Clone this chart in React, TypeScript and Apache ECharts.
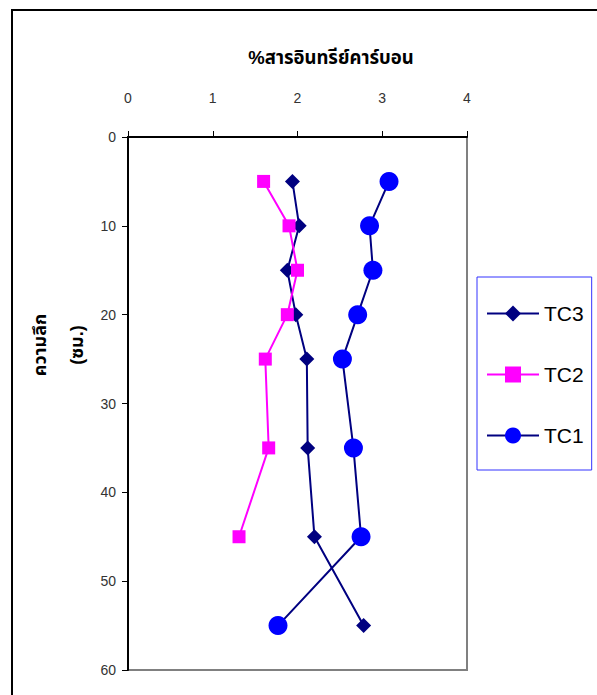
import React, { useEffect, useRef } from "react";
import * as echarts from "echarts";

const depths = [5, 10, 15, 20, 25, 35, 45, 55];
const depthsTC2 = [5, 10, 15, 20, 25, 35, 45];
const tc3 = [1.94, 2.02, 1.88, 1.98, 2.11, 2.12, 2.2, 2.78];
const tc2 = [1.6, 1.9, 2.0, 1.88, 1.62, 1.66, 1.31];
const tc1 = [3.08, 2.85, 2.89, 2.71, 2.53, 2.66, 2.75, 1.77];
const seriesNames = ["TC3", "TC2", "TC1"];
const xTitle = "%สารอินทรีย์คาร์บอน";
const yTitle1 = "ความลึก";
const yTitle2 = "(ซม.)";

const FONT = "'Liberation Sans', Arial, 'Noto Sans Thai', Tahoma, sans-serif";

export default function App() {
  const ref = useRef<HTMLDivElement>(null);
  useEffect(() => {
    if (!ref.current) return;
    const chart = echarts.init(ref.current, undefined, { renderer: "svg" });
    const zip = (xs: number[], ys: number[]) => xs.map((x, i) => [x, ys[i]]);
    chart.setOption({
      animation: false,
      backgroundColor: "#fff",
      textStyle: { fontFamily: FONT },
      grid: {
        left: 128,
        top: 137,
        width: 339,
        height: 533,
        show: true,
        borderColor: "#808080",
        borderWidth: 2,
        backgroundColor: "#fff",
      },
      xAxis: {
        type: "value",
        position: "top",
        min: 0,
        max: 4,
        interval: 1,
        axisLine: { show: true, onZero: false, lineStyle: { color: "#000", width: 2 } },
        axisTick: { show: true, length: 6, lineStyle: { color: "#000", width: 1 } },
        axisLabel: { margin: 32, fontSize: 14, color: "#333", fontFamily: FONT },
        splitLine: { show: false },
      },
      yAxis: {
        type: "value",
        inverse: true,
        min: 0,
        max: 60,
        interval: 10,
        axisLine: { show: true, onZero: false, lineStyle: { color: "#000", width: 2 } },
        axisTick: { show: true, length: 6, lineStyle: { color: "#000", width: 1 } },
        axisLabel: { margin: 12, fontSize: 14, color: "#333", fontFamily: FONT },
        splitLine: { show: false },
      },
      legend: {
        orient: "vertical",
        left: 477,
        top: 277,
        itemWidth: 52,
        itemHeight: 20,
        itemGap: 40,
        padding: [26, 8, 24, 9],
        borderColor: "#3333ff",
        borderWidth: 1,
        textStyle: { fontSize: 21, color: "#000", fontFamily: FONT },
        data: seriesNames,
      },
      graphic: [
        {
          type: "rect",
          z: -10,
          shape: { x: 12, y: 10, width: 700, height: 800 },
          style: { fill: "none", stroke: "#000", lineWidth: 2 },
        },
        {
          type: "text",
          x: 331,
          y: 57,
          style: {
            text: xTitle,
            fontSize: 18.5,
            fontWeight: "bold",
            fill: "#000",
            fontFamily: FONT,
            textAlign: "center",
            textVerticalAlign: "middle",
          },
        },
        {
          type: "text",
          x: 40,
          y: 345,
          rotation: Math.PI / 2,
          style: {
            text: yTitle1,
            fontSize: 18,
            fontWeight: "bold",
            fill: "#000",
            fontFamily: FONT,
            textAlign: "center",
            textVerticalAlign: "middle",
          },
        },
        {
          type: "text",
          x: 77,
          y: 345,
          rotation: Math.PI / 2,
          style: {
            text: yTitle2,
            fontSize: 18,
            fontWeight: "bold",
            fill: "#000",
            fontFamily: FONT,
            textAlign: "center",
            textVerticalAlign: "middle",
          },
        },
      ],
      series: [
        {
          name: "TC3",
          type: "line",
          data: zip(tc3, depths),
          symbol: "diamond",
          symbolSize: 15,
          itemStyle: { color: "#000080" },
          lineStyle: { color: "#000080", width: 2 },
        },
        {
          name: "TC2",
          type: "line",
          data: zip(tc2, depthsTC2),
          symbol: "rect",
          symbolSize: 13,
          itemStyle: { color: "#ff00ff" },
          lineStyle: { color: "#ff00ff", width: 2 },
        },
        {
          name: "TC1",
          type: "line",
          data: zip(tc1, depths),
          symbol: "circle",
          symbolSize: 19,
          itemStyle: { color: "#0000ff" },
          lineStyle: { color: "#000080", width: 2 },
        },
      ],
    });
    return () => chart.dispose();
  }, []);
  return (
    <div
      ref={ref}
      style={{ position: "fixed", left: 0, top: 0, width: 597, height: 695 }}
    />
  );
}
